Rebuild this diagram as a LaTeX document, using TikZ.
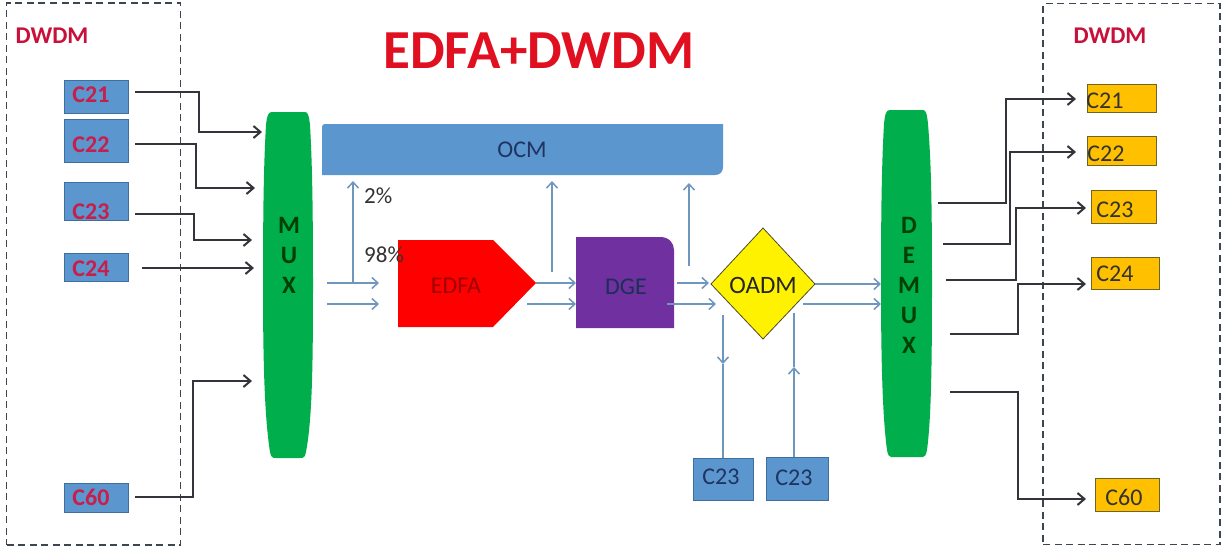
\documentclass[tikz,border=0pt]{standalone}
\usepackage{fontspec}
\setmainfont{Carlito}
\usetikzlibrary{arrows.meta}
\definecolor{boxblue}{HTML}{5B96CF}
\definecolor{boxedge}{HTML}{3F6F9F}
\definecolor{crim}{HTML}{C81E4A}
\definecolor{titlered}{HTML}{E01020}
\definecolor{dw}{HTML}{C8103A}
\definecolor{navy}{HTML}{1F3460}
\definecolor{amber}{HTML}{FFC000}
\definecolor{amberedge}{HTML}{6E6428}
\definecolor{muxgreen}{HTML}{00AE4C}
\definecolor{darkline}{HTML}{34343A}
\definecolor{blueline}{HTML}{6F97BE}
\definecolor{dashc}{HTML}{3C4652}
\definecolor{purp}{HTML}{7030A0}
\tikzset{
  inbox/.style={draw=boxedge,fill=boxblue,line width=0.8pt,inner sep=0pt,minimum width=64pt},
  outbox/.style={draw=amberedge,fill=amber,line width=1pt,inner sep=0pt},
  addbox/.style={draw=boxedge,fill=boxblue,line width=0.8pt,inner sep=0pt},
  frameb/.style={draw=dashc,line width=1.1pt,dash pattern=on 7pt off 4.5pt,inner sep=0pt},
  intext/.style={font=\fontsize{24}{26}\selectfont\bfseries,text=crim,inner sep=0pt},
  outtext/.style={font=\fontsize{24}{26}\selectfont,text=black!80,inner sep=0pt},
  dwtext/.style={font=\fontsize{24}{26}\selectfont\bfseries,text=dw,inner sep=0pt},
  stacktext/.style={font=\fontsize{25}{30}\selectfont\bfseries,text=black!75!green,align=center,inner sep=0pt},
  darkarrow/.style={draw=darkline,line width=2pt,-{Straight Barb[length=7pt,width=12pt,line width=2pt]}},
  bluearrow/.style={draw=blueline,line width=1.6pt,-{Straight Barb[length=6pt,width=11pt,line width=1.5pt]}},
  blueplain/.style={draw=blueline,line width=1.6pt},
  pct/.style={font=\fontsize{23}{26}\selectfont,text=black!80,inner sep=0pt,anchor=west},
}
\begin{document}
\begin{tikzpicture}[x=1pt,y=-1pt]
\useasboundingbox (0,0) rectangle (1227,552);
\fill[white] (0,0) rectangle (1227,552);

% frames
\node[frameb,minimum width=174pt,minimum height=542pt] (lframe) at (93.5,274) {};
\node[frameb,minimum width=177pt,minimum height=541pt] (rframe) at (1131.5,274) {};
\node[dwtext] (ldw) at (52,36) {DWDM};
\node[dwtext] (rdw) at (1110,36) {DWDM};
\node[font=\fontsize{55}{57}\selectfont\bfseries,text=titlered,inner sep=0pt] (title) at (539,51) {EDFA+DWDM};

% input boxes
\node[inbox,minimum height=33.5pt] (c21) at (96,96.8) {};
\node[inbox,minimum height=43pt] (c22) at (96,140.5) {};
\node[inbox,minimum height=38pt] (c23) at (96,201) {};
\node[inbox,minimum height=28pt] (c24) at (96,267) {};
\node[inbox,minimum height=29pt] (c60) at (96,497.5) {};
\node[intext] (t21) at (91,95) {C21};
\node[intext] (t22) at (91,145) {C22};
\node[intext] (t23) at (91,212) {C23};
\node[intext] (t24) at (91,269) {C24};
\node[intext] (t60) at (91,497) {C60};

% MUX / DEMUX
\path[fill=muxgreen] (272,112) -- (305,112) .. controls (308,112) and (309,116) .. (310,125)
  .. controls (312,160) and (313,200) .. (313,285) .. controls (313,370) and (312,420) .. (306,452)
  .. controls (305,457) and (304,458) .. (300,458) -- (276,458) .. controls (272,458) and (271,457) .. (270,452)
  .. controls (265,420) and (263,370) .. (263,285) .. controls (263,200) and (264,160) .. (266,125)
  .. controls (267,116) and (268,112) .. (272,112) -- cycle;
\path[fill=muxgreen] (890,110) -- (923,110) .. controls (926,110) and (927,114) .. (928,124)
  .. controls (931,160) and (932,200) .. (932,284) .. controls (932,370) and (931,420) .. (927,450)
  .. controls (926,455) and (925,457) .. (923,457) -- (891,457) .. controls (889,457) and (888,455) .. (887,450)
  .. controls (883,420) and (881,370) .. (881,284) .. controls (881,200) and (882,160) .. (884,124)
  .. controls (885,114) and (886,110) .. (890,110) -- cycle;
\node[stacktext] (mux) at (289,255) {M\\U\\X};
\node[stacktext] (demux) at (909,285) {D\\E\\M\\U\\X};

% OCM
\path[fill=boxblue] (325,124) -- (723,124) -- (723,167) .. controls (723,172) and (720,175) .. (715,175) -- (322,175) -- (322,127) .. controls (322,125) and (323,124) .. (325,124) -- cycle;
\node[font=\fontsize{24}{26}\selectfont,text=navy,inner sep=0pt] (ocm) at (522,150) {OCM};

% EDFA
\path[fill=red] (398,240) -- (493,240) -- (536,283) -- (493,327) -- (398,327) -- cycle;
\node[font=\fontsize{24}{26}\selectfont,text=red!62!black,inner sep=0pt] (edfa) at (456,286) {EDFA};
% DGE
\path[fill=purp] (576,237) -- (660,237) .. controls (669,237) and (674,243) .. (674,250) -- (674,328) -- (576,328) -- cycle;
\node[font=\fontsize{24}{26}\selectfont,text=navy!90!black,inner sep=0pt] (dge) at (626,287) {DGE};
% OADM
\path[fill=yellow,draw=black!60!olive,line width=0.8pt] (763,228) -- (815,284) -- (763,339) -- (711,284) -- cycle;
\node[font=\fontsize{25}{27}\selectfont,text=black!85,inner sep=0pt] (oadm) at (763,285) {OADM};

\node[pct] (p2) at (364,196) {2\%};
\node[pct] (p98) at (364,255) {98\%};

% output boxes
\node[outbox,minimum width=69pt,minimum height=28pt] (y21) at (1121.5,98) {};
\node[outbox,minimum width=69pt,minimum height=29pt] (y22) at (1121.5,150.5) {};
\node[outbox,minimum width=65pt,minimum height=33pt] (y23) at (1123.5,206.5) {};
\node[outbox,minimum width=68pt,minimum height=32pt] (y24) at (1125,273) {};
\node[outbox,minimum width=64pt,minimum height=33pt] (y60) at (1127.5,494.5) {};
\node[outtext] (o21) at (1105,101) {C21};
\node[outtext] (o22) at (1106,154) {C22};
\node[outtext] (o23) at (1115,210) {C23};
\node[outtext] (o24) at (1115,274) {C24};
\node[outtext] (o60) at (1124,497) {C60};

% add/drop boxes
\node[addbox,minimum width=60pt,minimum height=42pt] (d1) at (723,479) {};
\node[addbox,minimum width=62pt,minimum height=43pt] (d2) at (797,478.5) {};
\node[font=\fontsize{24}{26}\selectfont,text=navy,inner sep=0pt] (dt1) at (721,477) {C23};
\node[font=\fontsize{24}{26}\selectfont,text=navy,inner sep=0pt] (dt2) at (794,478) {C23};

% named ends of dark connectors
\coordinate (a21) at (135,92);  \coordinate (b21) at (262,132);
\coordinate (a22) at (135,144); \coordinate (b22) at (255,188);
\coordinate (a23) at (135,214); \coordinate (b23) at (252,240);
\coordinate (a24) at (142,268); \coordinate (b24) at (254,268);
\coordinate (a60) at (135,497); \coordinate (b60) at (252,381);
\draw[darkarrow] (a21) -- (199,92) -- (199,132) -- (b21);
\draw[darkarrow] (a22) -- (196,144) -- (196,188) -- (b22);
\draw[darkarrow] (a23) -- (194,214) -- (194,240) -- (b23);
\draw[darkarrow] (a24) -- (b24);
\draw[darkarrow] (a60) -- (193,497) -- (193,381) -- (b60);

\coordinate (e21) at (938,203);   \coordinate (f21) at (1076,99);
\coordinate (e22) at (943,244);   \coordinate (f22) at (1076,152);
\coordinate (e23) at (946,280);   \coordinate (f23) at (1086,208);
\coordinate (e24) at (950,333.5); \coordinate (f24) at (1086,284);
\coordinate (e60) at (950,392);   \coordinate (f60) at (1086,499);
\draw[darkarrow] (e21) -- (1006,203) -- (1006,99) -- (f21);
\draw[darkarrow] (e22) -- (1010,244) -- (1010,152) -- (f22);
\draw[darkarrow] (e23) -- (1016,280) -- (1016,208) -- (f23);
\draw[darkarrow] (e24) -- (1018,333.5) -- (1018,284) -- (f24);
\draw[darkarrow] (e60) -- (1018,392) -- (1018,499) -- (f60);

% named ends of blue connectors
\coordinate (i1) at (327,283); \coordinate (i1e) at (379,283);
\coordinate (i2) at (327,304); \coordinate (i2e) at (379,304);
\coordinate (u1) at (353,283); \coordinate (u1e) at (353,181);
\coordinate (u2) at (552,272); \coordinate (u2e) at (552,181);
\coordinate (u3) at (689,266); \coordinate (u3e) at (689,183);
\draw[bluearrow] (i1) -- (i1e);
\draw[bluearrow] (i2) -- (i2e);
\draw[bluearrow] (u1) -- (u1e);
\draw[bluearrow] (u2) -- (u2e);
\draw[bluearrow] (u3) -- (u3e);
\coordinate (g1) at (536,283); \coordinate (g1e) at (576,283);
\coordinate (g2) at (527,304); \coordinate (g2e) at (576,304);
\coordinate (h1) at (677,283); \coordinate (h1e) at (709,283);
\coordinate (h2) at (667,304); \coordinate (h2e) at (716,304);
\coordinate (k1) at (815,284); \coordinate (k1e) at (881,284);
\coordinate (k2) at (803,304); \coordinate (k2e) at (881,304);
\draw[bluearrow] (g1) -- (g1e);
\draw[bluearrow] (g2) -- (g2e);
\draw[bluearrow] (h1) -- (h1e);
\draw[bluearrow] (h2) -- (h2e);
\draw[bluearrow] (k1) -- (k1e);
\draw[bluearrow] (k2) -- (k2e);

% add/drop connectors
\coordinate (dtop) at (723,315); \coordinate (dmid) at (723,364);
\coordinate (atop) at (794,313); \coordinate (amid) at (794,367);
\draw[bluearrow] (dtop) -- (dmid);
\draw[blueplain] (dmid) -- (dmid |- d1.north);
\draw[bluearrow] (amid |- d2.north) -- (amid);
\draw[blueplain] (amid) -- (atop);
\end{tikzpicture}
\end{document}
